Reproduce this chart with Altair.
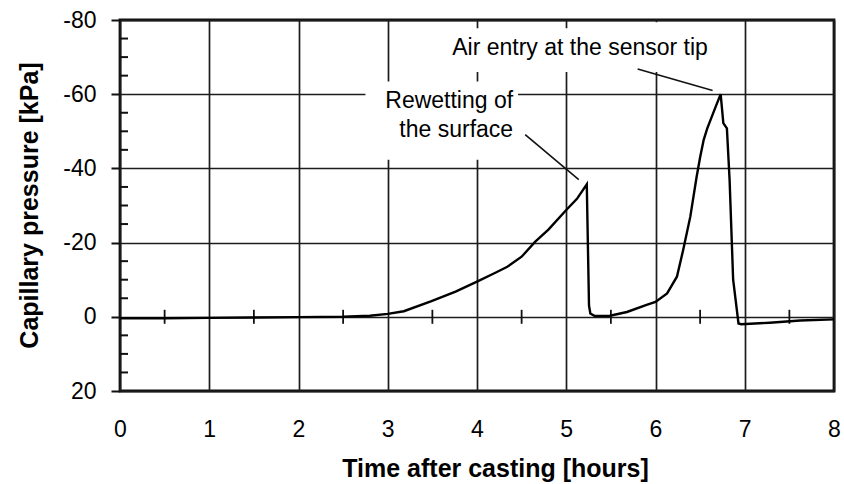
import altair as alt
import pandas as pd

# Capillary pressure measured in fresh concrete after casting
time_h = [0.0, 0.5, 1.0, 1.5, 2.0, 2.5, 2.8, 3.0, 3.18, 3.49, 3.76, 4.0, 4.2, 4.34,
          4.5, 4.65, 4.8, 5.0, 5.12, 5.23, 5.255, 5.27, 5.32, 5.49, 5.68, 5.9, 6.0,
          6.13, 6.24, 6.31, 6.39, 6.46, 6.5, 6.54, 6.58, 6.63, 6.68, 6.73, 6.76,
          6.8, 6.83, 6.87, 6.93, 6.96, 7.28, 7.62, 8.0]
pressure_kpa = [0.4, 0.4, 0.3, 0.2, 0.1, 0.0, -0.3, -0.8, -1.5, -4.2, -6.8, -9.5,
                -11.8, -13.5, -16.2, -20.2, -23.5, -28.8, -31.8, -35.7, -3.0, -0.9,
                -0.2, -0.3, -1.3, -3.2, -4.0, -6.3, -10.8, -18.0, -27.0, -37.6,
                -43.0, -47.7, -50.8, -53.9, -57.0, -60.0, -52.2, -50.8, -37.0,
                -10.0, 1.8, 2.0, 1.6, 1.0, 0.7]

x_ticks = [0, 1, 2, 3, 4, 5, 6, 7, 8]
y_ticks = [-80, -60, -40, -20, 0, 20]
y_minor = [-75, -70, -65, -55, -50, -45, -35, -30, -25, -15, -10, -5, 5, 10, 15]
x_minor = [0.5, 1.5, 2.5, 3.5, 4.5, 5.5, 6.5, 7.5]

# annotation texts
note_text = ["Air entry at the sensor tip", "Rewetting of", "the surface"]

X_TITLE = "Time after casting [hours]"
Y_TITLE = "Capillary pressure [kPa]"

FONT = "Liberation Sans"
INK = "#111111"
GRID = "#1c1c1c"

x_scale = alt.Scale(domain=[0, 8], nice=False, zero=False)
y_scale = alt.Scale(domain=[-80, 20], nice=False, zero=False, reverse=True)

x_axis = alt.Axis(
    values=x_ticks, grid=True, gridColor=GRID, gridWidth=1.7, gridOpacity=1,
    ticks=False, domain=False, labelFont=FONT, labelFontSize=23,
    labelColor="black", labelPadding=27, labelFlush=False,
    titleFont=FONT, titleFontSize=25,
    titleFontWeight="bold", titleColor="black", titleX=375, titleY=85,
    titleBaseline="alphabetic", titleAlign="center",
)
y_axis = alt.Axis(
    values=y_ticks, grid=True, gridColor=GRID, gridWidth=1.7, gridOpacity=1,
    ticks=True, tickSize=9, tickWidth=2, tickColor=INK, domain=False,
    labelFont=FONT, labelFontSize=23, labelColor="black", labelPadding=15,
    labelExpr="datum.value < 0 ? '-' + abs(datum.value) : '' + datum.value",
    titleFont=FONT, titleFontSize=25,
    titleFontWeight="bold", titleColor="black", titleX=-83, titleY=185,
    titleAngle=270, titleBaseline="alphabetic", titleAlign="center",
)


def xpos(field):
    # every layer carries the same x scale and axis so they merge cleanly
    return alt.X(field, type="quantitative", scale=x_scale, axis=x_axis, title=X_TITLE)


def ypos(field):
    return alt.Y(field, type="quantitative", scale=y_scale, axis=y_axis, title=Y_TITLE)


curve = pd.DataFrame({"t": time_h, "p": pressure_kpa})
line = alt.Chart(curve).mark_line(color="black", strokeWidth=2.4).encode(
    x=xpos("t"), y=ypos("p"), order="t:Q",
)

# white boxes that clear the grid behind the annotation texts
boxes = pd.DataFrame({
    "t": [3.58, 5.95, 2.75],
    "t2": [6.75, 6.05, 4.46],
    "p": [-77.8, -79.4, -63.4],
    "p2": [-66.0, -66.0, -42.3],
})
box_layer = alt.Chart(boxes).mark_rect(color="white").encode(
    x=xpos("t"), x2="t2:Q", y=ypos("p"), y2="p2:Q",
)

minor_y = alt.Chart(pd.DataFrame({"p": y_minor})).mark_rule(
    color=INK, strokeWidth=2
).encode(
    y=ypos("p"), x=alt.value(0), x2=alt.value(8),
)

minor_x = alt.Chart(pd.DataFrame({"t": x_minor, "p": [0] * len(x_minor)})).mark_tick(
    color=INK, thickness=1.8, size=14, orient="vertical", opacity=1
).encode(
    x=xpos("t"), y=ypos("p"),
)

leaders = pd.DataFrame({
    "t": [5.80, 4.54],
    "p": [-66.8, -49.1],
    "t2": [6.64, 5.14],
    "p2": [-61.0, -37.0],
})
leader_layer = alt.Chart(leaders).mark_rule(color=INK, strokeWidth=1.6).encode(
    x=xpos("t"), y=ypos("p"), x2="t2:Q", y2="p2:Q",
)

notes_center = alt.Chart(pd.DataFrame({
    "t": [5.155], "p": [-70.6], "label": [note_text[0]],
})).mark_text(
    font=FONT, fontSize=23, color="black", align="center", baseline="alphabetic"
).encode(
    x=xpos("t"), y=ypos("p"), text="label:N",
)

notes_right = alt.Chart(pd.DataFrame({
    "t": [4.405, 4.405], "p": [-56.2, -48.4], "label": note_text[1:],
})).mark_text(
    font=FONT, fontSize=23, color="black", align="right", baseline="alphabetic"
).encode(
    x=xpos("t"), y=ypos("p"), text="label:N",
)

chart = alt.layer(
    box_layer, minor_y, minor_x, line, leader_layer, notes_center, notes_right
).properties(
    width=714,
    height=371,
    autosize=alt.AutoSizeParams(type="none"),
    padding={"left": 120, "top": 20, "right": 10, "bottom": 93},
    background="white",
).configure_view(
    stroke=INK, strokeWidth=2.8
)

chart.save("out.html", embed_options={"renderer": "svg", "actions": False})
